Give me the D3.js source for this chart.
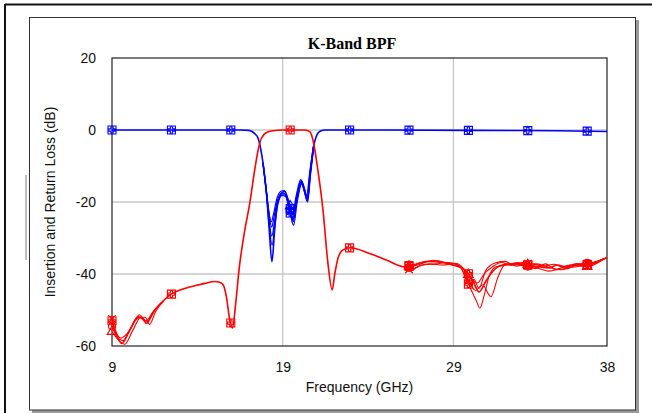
<!DOCTYPE html>
<html>
<head>
<meta charset="utf-8">
<script src="https://cdn.jsdelivr.net/npm/d3@7/dist/d3.min.js"></script>
<style>
  body { margin: 0; background: #fff; }
  svg { display: block; }
</style>
</head>
<body>
<div id="chart"></div>
<script>
// ---- data ----
var freqTicks = [9, 19, 29, 38];
var dbTicks = [20, 0, -20, -40, -60];
var gridFreqs = [19, 29];
var gridDbs = [0, -20, -40];
var markerFreqs = [9, 12.48, 15.96, 19.44, 22.92, 26.4, 29.88, 33.36, 36.84];

// insertion loss (S21), main trace
var s21 = [[9,0],[12,0],[15,0],[16.5,0],[17.0,-0.1],[17.2,-0.4],[17.4,-1.2],[17.56,-2.3],[17.7,-5],
  [17.85,-9.3],[18.05,-17.6],[18.2,-26.9],[18.37,-36.6],[18.53,-27.7],[18.67,-21.3],[18.92,-17.6],
  [19.12,-17.1],[19.31,-19.4],[19.51,-23.1],[19.6,-25],[19.8,-19.4],[20.09,-14.4],[20.29,-17.1],
  [20.44,-19.4],[20.61,-12],[20.81,-4.6],[20.95,-2],[21.06,-0.9],[21.25,-0.2],[21.45,0],[25,0],
  [30,-0.1],[35,-0.2],[38,-0.4]];

// S21 spread in the passband (other samples)
var s21b = [[17.85,-9.3],[18.05,-17],[18.2,-23],[18.35,-27],[18.5,-24],[18.7,-19.5],[18.95,-17.5],
  [19.15,-17.8],[19.35,-20.5],[19.55,-24.5],[19.62,-25.5],[19.82,-19],[20.08,-14],[20.28,-16.5],
  [20.42,-18.8],[20.61,-12],[20.81,-4.6]];
var s21c = [[17.85,-9.5],[18.05,-18],[18.22,-27],[18.38,-32],[18.55,-26],[18.72,-20.5],[18.97,-18.2],
  [19.17,-18.5],[19.37,-21.5],[19.55,-25.5],[19.64,-26.5],[19.85,-20],[20.12,-15],[20.31,-17.8],
  [20.46,-20],[20.63,-12.5],[20.82,-4.8]];
var s21d = [[17.85,-9],[18.03,-16.5],[18.18,-22.5],[18.33,-25.5],[18.48,-23],[18.66,-19],[18.9,-17],
  [19.1,-16.8],[19.3,-19],[19.5,-22],[19.58,-23.5],[19.78,-18.5],[20.06,-13.8],[20.26,-16],
  [20.4,-18.2],[20.59,-11.5],[20.8,-4.4]];
var s21e = [[17.85,-9.4],[18.06,-17.8],[18.21,-25],[18.36,-29.5],[18.52,-25.5],[18.7,-20],[18.94,-18],
  [19.14,-18],[19.34,-21],[19.53,-24],[19.61,-24.5],[19.81,-19.8],[20.1,-14.8],[20.3,-17.5],
  [20.45,-19.8],[20.62,-12.2],[20.81,-4.6]];

// return loss (S11), main trace
var s11 = [[9,-53],[9.2,-56],[9.57,-59.3],[10.0,-56],[10.54,-51.9],[10.8,-52.5],[11.03,-53.7],
  [11.3,-51.5],[11.51,-50],[12.0,-47.5],[12.39,-45.8],[12.8,-44.8],[13.27,-44],[13.9,-43.2],
  [14.44,-42.6],[15.02,-42.1],[15.3,-42.3],[15.51,-43],[15.7,-46.3],[15.9,-52.8],[16.06,-55],
  [16.25,-48],[16.45,-38.5],[16.78,-27.8],[17.07,-20.4],[17.36,-11.1],[17.56,-5.6],[17.75,-2.3],
  [18.05,-0.7],[18.43,-0.2],[19,0],[20.3,0],[20.6,-0.5],[20.77,-2.7],[21.06,-11.1],[21.36,-22.2],
  [21.65,-37],[21.9,-44.4],[22.05,-40],[22.24,-35.6],[22.53,-33.3],[22.96,-32.7],[24.09,-34.3],
  [25.07,-36.1],[26.13,-38],[26.6,-37.8],[27.0,-37],[28,-36.4],[28.95,-37.5],[29.5,-38.3],
  [29.9,-40],[30.2,-42.5],[30.5,-45],[30.9,-42],[31.3,-39.3],[31.87,-37.5],[32.5,-37.2],
  [33.4,-37.5],[34.0,-38],[34.6,-38.3],[35.1,-37.5],[35.6,-38],[36.2,-37.2],[36.95,-37.5],
  [37.5,-36.5],[38,-35.4]];

// S11 spread, low side
var s11b = [[9,-54.5],[9.3,-57.5],[9.65,-58.5],[10.1,-55],[10.62,-51.3],[10.9,-53],[11.1,-53.2],
  [11.51,-50],[12.0,-47.5]];
var s11c = [[9,-56],[9.4,-58.5],[9.75,-59.5],[10.2,-55.8],[10.7,-52],[10.95,-52],[11.2,-54],
  [11.55,-50.5],[12.0,-47.5]];
var s11d = [[9,-52.5],[9.15,-55],[9.5,-57.8],[9.9,-56.5],[10.45,-52.5],[10.75,-52],[11.0,-53],
  [11.4,-50.5],[12.0,-47.8]];

// S11 spread, high side
var s11e = [[26.13,-38],[26.8,-37.2],[27.4,-36.5],[28.2,-36.8],[28.9,-37],[29.4,-38],[29.7,-41],
  [30.0,-44],[30.35,-47.5],[30.55,-49.5],[30.8,-46],[31.1,-40.5],[31.5,-38],[32.2,-37.5],
  [32.8,-36.8],[33.4,-37.5],[34.1,-38.6],[34.6,-39.2],[35.2,-38.5],[35.8,-37.5],[36.5,-37.8],
  [37.1,-37],[38,-35.4]];
var s11f = [[26.13,-38],[26.6,-38.5],[27.2,-37.5],[28.0,-37.2],[28.7,-36.8],[29.3,-37.5],[29.6,-39.5],
  [29.9,-42],[30.3,-44.5],[30.7,-43],[31.2,-46.3],[31.6,-41],[32.0,-37.5],[32.6,-37],[33.3,-38],
  [33.9,-37.2],[34.5,-38],[35.3,-38.8],[35.9,-37.8],[36.6,-37],[37.2,-36.8],[38,-35.4]];
var s11g = [[26.13,-38],[26.5,-39],[27.0,-37.8],[27.6,-37.2],[28.4,-37.5],[29.1,-37],[29.6,-38.5],
  [29.8,-40.5],[30.0,-43.5],[30.2,-41.5],[30.5,-44],[30.9,-39],[31.4,-37],[32.0,-36.5],[32.7,-37.8],
  [33.5,-37],[34.2,-37.8],[34.9,-37.3],[35.5,-38.3],[36.2,-38],[36.8,-37.2],[37.5,-36.3],[38,-35.4]];
var s11h = [[26.13,-38],[26.9,-37.5],[27.8,-36.2],[28.6,-37],[29.2,-37.8],[29.7,-39],[30.0,-41],
  [30.4,-42.5],[30.8,-40],[31.3,-38],[31.8,-36.8],[32.4,-37.6],[33.1,-36.8],[33.8,-38.5],
  [34.4,-37.2],[35.0,-38.8],[35.7,-38.5],[36.3,-37.5],[36.9,-38],[37.5,-36.8],[38,-35.4]];

var traces = [
  {data: s21,  color: "#0000ff", sym: "sq",   w: 1.6},
  {data: s21b, color: "#0000ff", sym: "circ", w: 1.2},
  {data: s21c, color: "#0000ff", sym: "sq",   w: 1.2},
  {data: s21d, color: "#0000ff", sym: "tri",  w: 1.2},
  {data: s21e, color: "#0000ff", sym: "star", w: 1.2},
  {data: s11,  color: "#ff0000", sym: "sq",   w: 1.6},
  {data: s11b, color: "#ff0000", sym: "circ", w: 1.1},
  {data: s11c, color: "#ff0000", sym: "tri",  w: 1.1},
  {data: s11d, color: "#ff0000", sym: "star", w: 1.1},
  {data: s11e, color: "#ff0000", sym: "sq",   w: 1.1},
  {data: s11f, color: "#ff0000", sym: "circ", w: 1.1},
  {data: s11g, color: "#ff0000", sym: "star", w: 1.1},
  {data: s11h, color: "#ff0000", sym: "tri",  w: 1.1}
];

// ---- drawing ----
var W = 652, H = 413;
var margin = {top: 58, right: 45, bottom: 67, left: 112};
var width = W - margin.left - margin.right;
var height = H - margin.top - margin.bottom;

var svg = d3.select("#chart").append("svg")
    .attr("width", W)
    .attr("height", H);

// outer frame (only top and left edges show)
svg.append("line").attr("x1", 5).attr("x2", W).attr("y1", 4.5).attr("y2", 4.5)
    .attr("stroke", "#111").attr("stroke-width", 2);
svg.append("line").attr("x1", 5).attr("x2", 5).attr("y1", 4).attr("y2", H)
    .attr("stroke", "#111").attr("stroke-width", 2);
svg.append("line").attr("x1", 26).attr("x2", 26).attr("y1", 175).attr("y2", 260)
    .attr("stroke", "#aaa").attr("stroke-width", 1.5);

// inner frame with shadow
svg.append("rect").attr("x", 32).attr("y", 20).attr("width", 607).attr("height", 393)
    .attr("fill", "#9a9a9a");
svg.append("rect").attr("x", 29.5).attr("y", 17.5).attr("width", 606).attr("height", 392.5)
    .attr("fill", "#fff").attr("stroke", "#333").attr("stroke-width", 1);

var g = svg.append("g")
    .attr("transform", "translate(" + margin.left + "," + margin.top + ")");

var x = d3.scaleLinear().domain([9, 38]).range([0, width]);
var y = d3.scaleLinear().domain([-60, 20]).range([height, 0]);

// grid
g.selectAll(".vgrid").data(gridFreqs).enter().append("line")
    .attr("x1", function(d){ return x(d) }).attr("x2", function(d){ return x(d) })
    .attr("y1", 0).attr("y2", height)
    .attr("stroke", "#c8c8c8").attr("stroke-width", 1.3);
g.selectAll(".hgrid").data(gridDbs).enter().append("line")
    .attr("x1", 0).attr("x2", width)
    .attr("y1", function(d){ return y(d) }).attr("y2", function(d){ return y(d) })
    .attr("stroke", "#c8c8c8").attr("stroke-width", 1.3);

// axes (labels only, no tick marks); plain hyphen for negatives like the original
var fmt = function(d){ return String(d) };
var xAxis = d3.axisBottom(x).tickValues(freqTicks).tickSize(0).tickPadding(16).tickFormat(fmt);
var yAxis = d3.axisLeft(y).tickValues(dbTicks).tickSize(0).tickPadding(16).tickFormat(fmt);

g.append("g").attr("transform", "translate(0," + height + ")").call(xAxis)
    .call(function(s){ s.select(".domain").remove() });
g.append("g").call(yAxis)
    .call(function(s){ s.select(".domain").remove() });
g.selectAll(".tick text")
    .attr("font-family", "Arial, 'Liberation Sans', sans-serif")
    .attr("font-size", 14).attr("fill", "#111");

// plot box
g.append("rect").attr("x", 0).attr("y", 0).attr("width", width).attr("height", height)
    .attr("fill", "none").attr("stroke", "#222").attr("stroke-width", 1.2);

// clip
g.append("clipPath").attr("id", "clip").append("rect")
    .attr("width", width).attr("height", height);

var line = d3.line()
    .curve(d3.curveMonotoneX)
    .x(function(d){ return x(d[0]) })
    .y(function(d){ return y(d[1]) });

var plot = g.append("g").attr("clip-path", "url(#clip)");

plot.selectAll(".trace").data(traces).enter().append("path")
    .attr("class", "trace")
    .attr("fill", "none")
    .attr("stroke", function(d){ return d.color })
    .attr("stroke-width", function(d){ return d.w })
    .attr("d", function(d){ return line(d.data) });

// markers: placed on the trace at each marker frequency
var bis = d3.bisector(function(d){ return d[0] }).left;
function valueAt(data, f) {
    var i = bis(data, f);
    if (i <= 0) return data[0][1];
    if (i >= data.length) return data[data.length - 1][1];
    var a = data[i - 1], b = data[i];
    return a[1] + (b[1] - a[1]) * (f - a[0]) / (b[0] - a[0]);
}

var symTypes = {
    sq: d3.symbolSquare, circ: d3.symbolCircle, tri: d3.symbolTriangle, star: d3.symbolTimes
};

var mk = g.append("g");
traces.forEach(function(t){
    var lo = t.data[0][0], hi = t.data[t.data.length - 1][0];
    markerFreqs.forEach(function(f){
        if (f < lo || f > hi) return;
        var cx = x(f), cy = y(valueAt(t.data, f));
        var m = mk.append("g").attr("transform", "translate(" + cx + "," + cy + ")")
            .attr("stroke", t.color).attr("fill", "none").attr("stroke-width", 1.1);
        m.append("path").attr("d", d3.symbol().type(symTypes[t.sym]).size(t.sym == "sq" ? 64 : 40)());
        if (t.sym == "sq") {
            m.append("path").attr("d", d3.symbol().type(d3.symbolCross).size(24)());
        }
    });
});

// title and axis titles
svg.append("text").attr("x", 352).attr("y", 49)
    .attr("text-anchor", "middle")
    .attr("font-family", "'Times New Roman', 'Liberation Serif', serif")
    .attr("font-weight", "bold").attr("font-size", 16)
    .text("K-Band BPF");

svg.append("text").attr("x", margin.left + width / 2).attr("y", 392)
    .attr("text-anchor", "middle")
    .attr("font-family", "Arial, 'Liberation Sans', sans-serif")
    .attr("font-size", 14).attr("fill", "#111")
    .text("Frequency (GHz)");

svg.append("text")
    .attr("transform", "translate(55,202) rotate(-90)")
    .attr("text-anchor", "middle")
    .attr("font-family", "Arial, 'Liberation Sans', sans-serif")
    .attr("font-size", 14).attr("fill", "#111")
    .text("Insertion and Return Loss (dB)");
</script>
</body>
</html>
